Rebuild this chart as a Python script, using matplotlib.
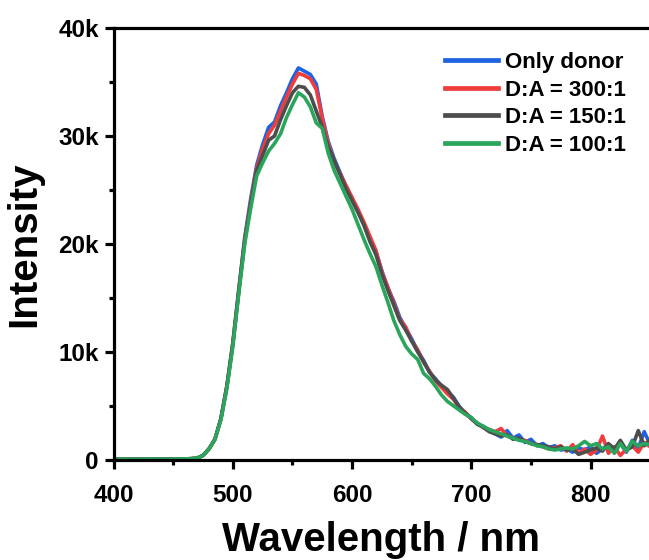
import numpy as np
import matplotlib.pyplot as plt
from matplotlib.ticker import MultipleLocator, FuncFormatter

plt.rcParams['font.family'] = ['Liberation Sans', 'DejaVu Sans']
plt.rcParams['font.weight'] = 'bold'

# wavelength grid (nm), 5 nm steps
wavelength = np.arange(400, 855, 5)

base = [60, 50, 70, 60, 50, 60, 70, 60, 50, 60, 70, 60, 80, 100]  # 400-465

# Only donor
donor = base + [
    150, 400, 1000, 1900, 3800, 6800, 10800, 15800, 20600, 24200,
    27300, 29200, 30800, 31300, 32800, 34000, 35300, 36300, 36000, 35700,
    34800, 31800, 29500, 27900, 26600, 25300, 24200, 23000, 21800, 20400,
    19300, 17500, 15900, 14700, 13200, 12200, 11200, 10100, 9200, 8100,
    7500, 6800, 6300, 5800, 4900, 4300, 3900, 3300, 3100, 2700,
    2400, 2100, 2700, 2000, 2300, 1600, 1900, 1300, 1500, 1100,
    1300, 900, 1000, 700, 1100, 900, 1200, 600, 1000, 1400,
    800, 1500, 700, 1800, 1100, 2600, 1400]

# D:A = 300:1
da300 = base + [
    150, 400, 1000, 1900, 3800, 6800, 10800, 15700, 20400, 23900,
    27000, 28800, 30200, 31000, 32300, 33600, 34800, 35800, 35600, 35300,
    34300, 31600, 29300, 27600, 26500, 25400, 24300, 23200, 22000, 20700,
    19400, 17400, 16000, 14500, 13000, 12300, 11000, 10200, 9000, 8200,
    7300, 6700, 6100, 5600, 4800, 4400, 3800, 3400, 3000, 2800,
    2600, 2900, 2200, 2000, 1900, 1800, 1500, 1400, 1200, 1000,
    1100, 1300, 800, 1400, 600, 1000, 500, 900, 2200, 600,
    1200, 400, 1000, 1300, 700, 1600, 1200]

# D:A = 150:1
da150 = base + [
    150, 400, 1000, 1900, 3800, 6800, 10700, 15600, 20300, 23700,
    26800, 28200, 29600, 30000, 31500, 32800, 34000, 34600, 34500, 33800,
    32300, 30800, 29000, 27700, 26400, 25100, 24000, 22900, 21700, 20200,
    19000, 17200, 15700, 14300, 12900, 12000, 11000, 10000, 9100, 8100,
    7400, 6900, 6500, 5700, 4900, 4300, 3800, 3300, 3000, 2600,
    2400, 2200, 2300, 1900, 2000, 1700, 1500, 1400, 1300, 1200,
    1000, 1200, 900, 1000, 500, 700, 900, 1100, 800, 1500,
    1000, 1800, 900, 1200, 2700, 1300, 1900]

# D:A = 100:1
da100 = base + [
    150, 400, 1000, 1900, 3700, 6600, 10500, 15400, 20000, 23300,
    26300, 27500, 28600, 29300, 30200, 31700, 32900, 34000, 33600, 32700,
    31200, 30700, 28400, 26800, 25600, 24400, 23200, 21800, 20400, 19100,
    17900, 16200, 14600, 12900, 11600, 10500, 9800, 9300, 8000, 7500,
    6800, 6000, 5400, 5000, 4600, 4200, 3900, 3400, 3100, 2800,
    2600, 2400, 2200, 2000, 1800, 1700, 1500, 1300, 1200, 1000,
    900, 1000, 1100, 1000, 1300, 1700, 1300, 1500, 1000, 1200,
    600, 1500, 800, 1700, 1300, 1500, 1400]

labels = ['Only donor', 'D:A = 300:1', 'D:A = 150:1', 'D:A = 100:1']
colors = ['#1f63e0', '#f03c3c', '#4d4d4d', '#2aa65c']
series = [donor, da300, da150, da100]

fig = plt.figure(figsize=(6.49, 5.6), dpi=100)
ax = fig.add_axes([0.175, 0.179, 0.825, 0.771])

for y, c, lab in zip(series, colors, labels):
    ax.plot(wavelength, y, color=c, lw=2.6, label=lab)

ax.set_xlim(400, 849)
ax.set_ylim(0, 40000)
ax.xaxis.set_major_locator(MultipleLocator(100))
ax.xaxis.set_minor_locator(MultipleLocator(50))
ax.yaxis.set_major_locator(MultipleLocator(10000))
ax.yaxis.set_minor_locator(MultipleLocator(5000))
ax.yaxis.set_major_formatter(FuncFormatter(lambda v, p: '0' if v == 0 else f'{int(v/1000)}k'))

for s in ['left', 'bottom', 'top']:
    ax.spines[s].set_linewidth(2.3)
ax.spines['right'].set_visible(False)
ax.tick_params(which='major', direction='out', length=6.5, width=2.3, labelsize=17.5, pad=4)
ax.tick_params(axis='x', which='major', pad=11)
ax.tick_params(which='minor', direction='out', length=3.5, width=2.3)
ax.tick_params(top=False, right=False, which='both')

ax.set_xlabel('Wavelength / nm', fontsize=29, fontweight='bold', labelpad=10)
ax.set_ylabel('Intensity', fontsize=29, fontweight='bold', labelpad=11)

leg = ax.legend(loc='upper right', bbox_to_anchor=(0.965, 0.955), frameon=False,
                fontsize=16, handlelength=2.4, handletextpad=0.3,
                labelspacing=0.3, borderaxespad=0.0, borderpad=0.2)
for line in leg.get_lines():
    line.set_linewidth(3.4)

fig.savefig('out.png', dpi=100)
